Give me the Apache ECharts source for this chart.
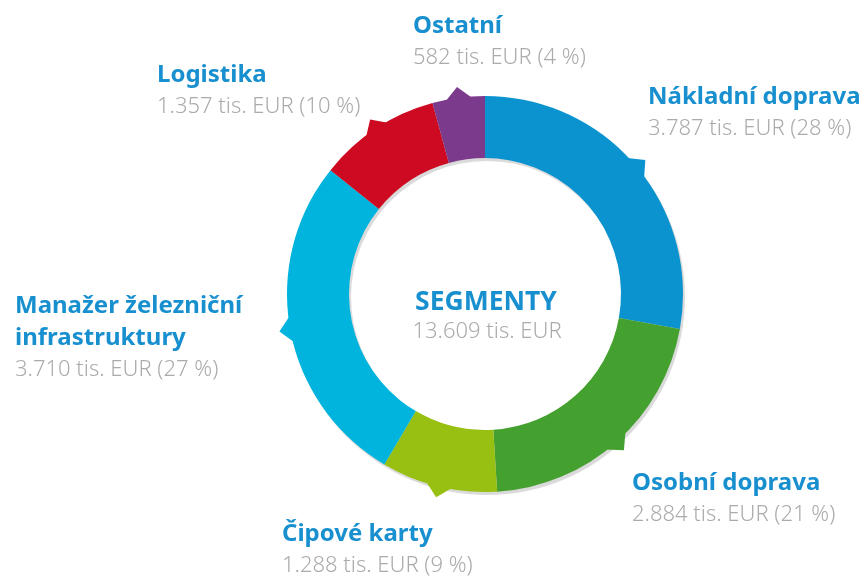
<!DOCTYPE html>
<html>
<head>
<meta charset="utf-8">
<script src="https://cdn.jsdelivr.net/npm/echarts@6/dist/echarts.min.js"></script>
<style>
html,body{margin:0;padding:0;background:#fff;}
#chart{width:868px;height:581px;}
</style>
</head>
<body>
<div id="chart"></div>
<script>
// ---- data ----
const categories = ['Nákladní doprava', 'Osobní doprava', 'Čipové karty', 'Manažer železniční infrastruktury', 'Logistika', 'Ostatní'];
const values = [3787, 2884, 1288, 3710, 1357, 582];
const totalValue = 13609;
const centerTitle = 'SEGMENTY';
const unitText = 'tis. EUR';

// ---- layout / style (not data) ----
const colors = ['#0a93cf', '#45a12f', '#98c012', '#00b4dd', '#cd0a21', '#7c3a8c'];
const labelAnchors = [[648, 104], [632, 490], [282, 541], [15, 313], [157, 82], [413, 33]]; // left x, title baseline y
const CX = 485, CY = 294, R_OUT = 198, R_IN = 136;
const TITLE_BLUE = '#1890cf';
const VALUE_GRAY = '#ababab';
const FONT = '"Noto Sans", "DejaVu Sans", sans-serif';

function fmt(v) { return String(v).replace(/\B(?=(\d{3})+(?!\d))/g, '.'); }
function wrapName(n) { return n.replace('železniční ', 'železniční\n'); }

const sum = values.reduce((a, b) => a + b, 0);
let cum = 0;
const pointers = values.map((v, i) => {
  const mid = cum + v / 2; cum += v;
  const ang = mid / sum * 360;
  return { value: [1, mid], symbolRotate: -ang, itemStyle: { color: colors[i], opacity: 1 } };
});

const chart = echarts.init(document.getElementById('chart'), null, { renderer: 'canvas' });
chart.setOption({
  animation: false,
  backgroundColor: '#ffffff',
  polar: { center: [CX, CY], radius: R_OUT },
  angleAxis: { type: 'value', min: 0, max: sum, startAngle: 90, clockwise: true, show: false },
  radiusAxis: { type: 'value', min: 0, max: 1, show: false },
  graphic: [
    { type: 'text', x: CX + 1, y: 289, style: { text: centerTitle, align: 'center', verticalAlign: 'alphabetic', fill: TITLE_BLUE, font: 'bold 26.5px ' + FONT } },
    { type: 'text', x: CX + 2, y: 321, style: { text: fmt(totalValue) + ' ' + unitText, align: 'center', verticalAlign: 'alphabetic', fill: VALUE_GRAY, font: '300 22px ' + FONT } }
  ],
  series: [
    {
      type: 'pie', silent: true, z: 1,
      center: [CX + 2, CY + 3], radius: [R_IN, R_OUT],
      label: { show: false }, labelLine: { show: false },
      itemStyle: { color: 'rgba(0,0,0,0.13)', shadowBlur: 3, shadowColor: 'rgba(0,0,0,0.15)' },
      data: [{ value: 1 }]
    },
    {
      type: 'pie', z: 3, silent: true,
      center: [CX, CY], radius: [R_IN, R_OUT],
      startAngle: 90, clockwise: true,
      avoidLabelOverlap: false,
      data: categories.map((c, i) => ({ name: c, value: values[i], itemStyle: { color: colors[i] } })),
      label: {
        show: true, position: 'outside',
        formatter: p => '{t|' + wrapName(p.name) + '}\n{v|' + fmt(p.value) + ' ' + unitText + ' (' + Math.round(p.value / totalValue * 100) + ' %)}',
        rich: {
          t: { fontFamily: FONT, fontWeight: 'bold', fontSize: 24, color: TITLE_BLUE, lineHeight: 32 },
          v: { fontFamily: FONT, fontWeight: 300, fontSize: 22, color: VALUE_GRAY, lineHeight: 31 }
        }
      },
      labelLine: { show: false },
      labelLayout: p => ({ x: labelAnchors[p.dataIndex][0], y: labelAnchors[p.dataIndex][1] - 23, align: 'left', verticalAlign: 'top' })
    },
    {
      type: 'scatter', coordinateSystem: 'polar', z: 5, silent: true,
      symbol: 'triangle', symbolSize: [46, 22],
      itemStyle: { opacity: 1 },
      data: pointers
    }
  ]
});
</script>
</body>
</html>
